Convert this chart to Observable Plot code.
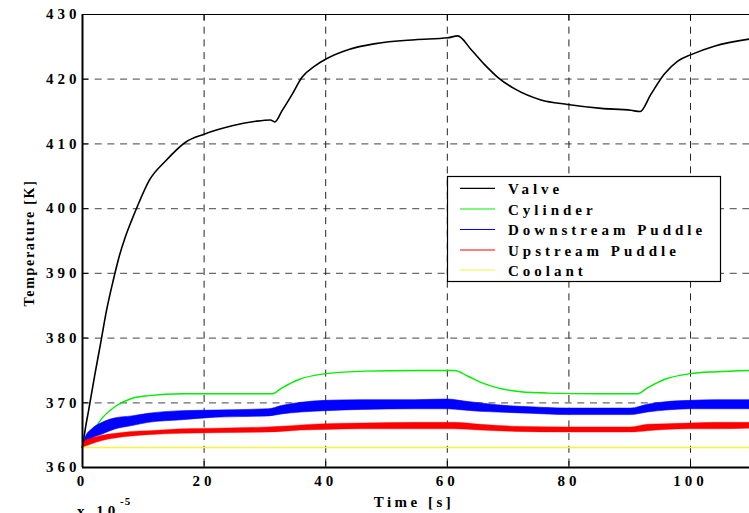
<!DOCTYPE html>
<html><head><meta charset="utf-8">
<script src="https://cdn.jsdelivr.net/npm/d3@7"></script>
<script src="https://cdn.jsdelivr.net/npm/@observablehq/plot@0.6"></script>
<style>
html,body{margin:0;padding:0;background:#fff;overflow:hidden;}
#chart svg{display:block;}
</style></head><body><div id="chart"></div>
<script>
// ---- data (time in units of 1e-5 s) ----
const xTicks = [0, 20, 40, 60, 80, 100];
const yTicks = [360, 370, 380, 390, 400, 410, 420, 430];

const valveT = [0,0.5,1,1.5,2,3,4,5,6,7,8,9,11,13.7,17,20,24.6,28.5,30.9,31.6,32.8,34.5,36.1,38.3,40.2,43.8,48.2,54.7,60.1,61.7,63.9,66.1,68.3,71.1,75.4,79.8,85.3,90.2,91.7,93.5,95.7,97.9,100.1,103.9,109.7];
const valveV = [363.1,366.2,368.8,371.5,374.2,379.3,384.5,388.7,392.5,395.5,398,400.3,404.4,407.4,410.3,411.5,412.8,413.5,413.7,413.4,415.1,417.7,420.3,422.1,423.2,424.6,425.5,426.1,426.4,426.7,424.6,422.3,420.3,418.5,416.8,416.1,415.5,415.2,415.0,417.7,420.8,422.8,423.8,425.1,426.2];

const cylT = [0,1.6,3.3,5.5,8.2,10.9,16.4,22,31.2,32.8,35.6,40,46.5,54.7,61.2,63.4,65.6,68.3,72.1,76.5,85,91.3,92.9,95.7,100,104.2,109.7];
const cylV = [363.1,365.4,367.7,369.5,370.7,371.1,371.4,371.4,371.4,372.3,373.6,374.5,374.9,375.0,375.0,374.1,373.1,372.3,371.7,371.5,371.4,371.4,372.3,373.6,374.5,374.8,375.0];

const downT  = [0,0.5,1.6,3.3,5.5,8.2,10.9,16.4,21.9,30.7,32.8,36,40,46,54.7,60.1,62.8,65.5,68.3,73.8,79.8,90.2,93,96,100,104,109.7];
const downHi = [363.1,364.6,365.9,366.9,367.6,367.9,368.3,368.7,368.8,369.0,369.5,370.0,370.3,370.4,370.4,370.5,370.2,369.9,369.6,369.3,369.1,369.1,369.7,370.1,370.3,370.4,370.4];
const downLo = [363.1,363.3,364.4,365.1,365.9,366.4,366.9,367.3,367.7,367.9,368.2,368.5,368.7,368.9,369.0,369.0,368.8,368.6,368.5,368.3,368.1,368.1,368.5,368.8,369.0,369.0,369.0];

const upT  = [0,0.5,1.6,3.3,5.5,8.2,10.9,16.4,21.9,30.7,32.8,36,40,46,54.7,61.2,65.6,71.1,79.8,90.2,93,96,100,104,109.7];
const upHi = [363.1,364.1,364.5,364.9,365.2,365.5,365.6,365.9,366.0,366.2,366.3,366.5,366.7,366.8,366.9,366.9,366.6,366.3,366.2,366.2,366.6,366.7,366.8,366.9,366.9];
const upLo = [363.1,363.2,363.6,364.1,364.5,364.8,365.0,365.2,365.3,365.4,365.5,365.7,365.8,365.9,365.9,365.9,365.7,365.5,365.4,365.4,365.6,365.8,365.9,365.9,366.0];

const coolT = [0, 109.7];
const coolV = [363.1, 363.1];

const seriesNames  = ["Valve", "Cylinder", "Downstream Puddle", "Upstream Puddle", "Coolant"];
const seriesColors = ["#000000", "#00ee00", "#0000ff", "#ff0000", "#f4f43c"];

// ---- tables ----
const valve = valveT.map((t, i) => ({t, v: valveV[i]}));
const cyl = cylT.map((t, i) => ({t, v: cylV[i]}));
const down = downT.map((t, i) => ({t, lo: downLo[i], hi: downHi[i]}));
const up = upT.map((t, i) => ({t, lo: upLo[i], hi: upHi[i]}));
const cool = coolT.map((t, i) => ({t, v: coolV[i]}));

const W = 749, H = 513, mL = 82, mR = 0, mT = 14, mB = 46;
const plotW = W - mL - mR, plotH = H - mT - mB;
const FONT = "'Liberation Serif','Times New Roman',serif";
const curve = "monotone-x";

const svg = Plot.plot({
  width: W, height: H,
  marginLeft: mL, marginRight: mR, marginTop: mT, marginBottom: mB,
  style: `font-family:${FONT};font-weight:bold;letter-spacing:4px;background:#fff;color:#000;`,
  x: {domain: [0, 109.7]},
  y: {domain: [360, 430]},
  marks: [
    Plot.ruleY(yTicks.slice(1, -1), {stroke: "#6a6a6a", strokeWidth: 1.2, strokeDasharray: "7,5.7"}),
    Plot.ruleX(xTicks.slice(1), {stroke: "#222", strokeWidth: 1, strokeDasharray: "7,5.7"}),
    // inward tick marks
    Plot.ruleX(xTicks, {stroke: "#000", insetTop: plotH - 6}),
    Plot.ruleX(xTicks, {stroke: "#000", insetBottom: plotH - 6}),
    Plot.ruleY(yTicks, {stroke: "#000", insetRight: plotW - 6}),
    // series
    Plot.line(valve, {x: "t", y: "v", stroke: seriesColors[0], strokeWidth: 1.6, curve}),
    Plot.line(cyl, {x: "t", y: "v", stroke: seriesColors[1], strokeWidth: 1.4, curve}),
    Plot.areaY(down, {x: "t", y1: "lo", y2: "hi", fill: seriesColors[2], stroke: seriesColors[2], strokeWidth: 0.6, curve}),
    Plot.areaY(up, {x: "t", y1: "lo", y2: "hi", fill: seriesColors[3], stroke: seriesColors[3], strokeWidth: 0.4, curve}),
    Plot.line(cool, {x: "t", y: "v", stroke: seriesColors[4], strokeWidth: 1.5}),
    // frame
    Plot.ruleX([0], {stroke: "#000", strokeWidth: 2}),
    Plot.ruleY([360], {stroke: "#000", strokeWidth: 1.8}),
    Plot.ruleY([430], {stroke: "#000", strokeWidth: 1.2}),
    // axes
    Plot.axisX(xTicks, {tickSize: 0, tickPadding: 8, fontSize: 15, fontWeight: "bold", label: null}),
    Plot.axisY(yTicks, {tickSize: 0, tickPadding: 2, fontSize: 15, fontWeight: "bold", label: null})
  ]
});
document.getElementById("chart").appendChild(svg);

const s = d3.select(svg);
// axis titles
s.append("text")
  .attr("transform", "translate(33.5,243) rotate(-90)")
  .attr("text-anchor", "middle")
  .attr("font-size", 14).attr("font-weight", "bold").attr("font-family", FONT)
  .style("letter-spacing", "1.7px")
  .text("Temperature [K]");
s.append("text")
  .attr("x", 414).attr("y", 507)
  .attr("text-anchor", "middle")
  .attr("font-size", 15).attr("font-weight", "bold").attr("font-family", FONT)
  .style("letter-spacing", "3.5px")
  .text("Time [s]");
s.append("text")
  .attr("x", 77).attr("y", 516)
  .attr("text-anchor", "start")
  .attr("font-size", 15).attr("font-weight", "bold").attr("font-family", FONT)
  .style("letter-spacing", "4px")
  .text("x 10");
s.append("text")
  .attr("x", 120).attr("y", 505)
  .attr("text-anchor", "start")
  .attr("font-size", 11).attr("font-weight", "bold").attr("font-family", FONT)
  .style("letter-spacing", "1px")
  .text("-5");

// legend
const lg = s.append("g");
lg.append("rect").attr("x", 447.5).attr("y", 176.5).attr("width", 273).attr("height", 105)
  .attr("fill", "#fff").attr("stroke", "#000").attr("stroke-width", 1.2);
const rowY = [188.3, 209, 229.5, 250, 270];
seriesNames.forEach((name, i) => {
  lg.append("line").attr("x1", 460).attr("x2", 495).attr("y1", rowY[i]).attr("y2", rowY[i])
    .attr("stroke", seriesColors[i]).attr("stroke-width", 1.2);
  lg.append("text").attr("x", 508).attr("y", rowY[i] + 5.6)
    .attr("text-anchor", "start")
    .attr("font-size", 15).attr("font-weight", "bold").attr("font-family", FONT)
    .style("letter-spacing", "4px")
    .text(name);
});
</script></body></html>
